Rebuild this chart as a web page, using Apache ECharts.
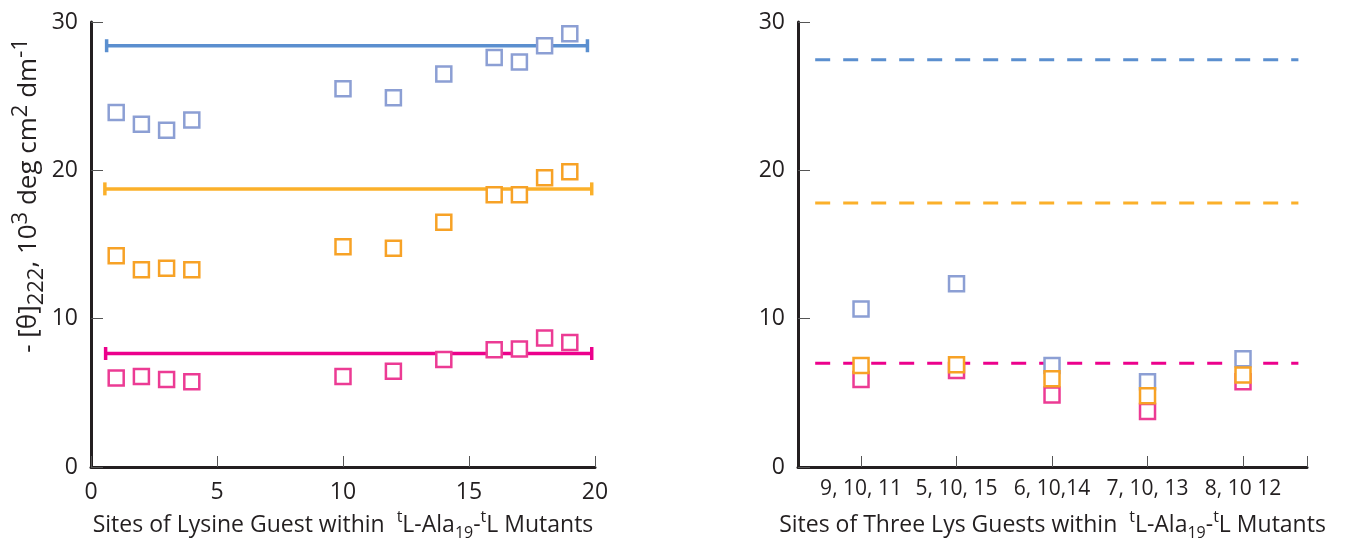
<!DOCTYPE html>
<html>
<head>
    <meta charset="utf-8">
    <title>Lysine guest sites</title>
    <script src="https://cdn.jsdelivr.net/npm/echarts@6/dist/echarts.min.js"></script>
    <style>
        html, body { margin: 0; padding: 0; background: #fff; }
        #main { width: 1348px; height: 546px; }
    </style>
</head>
<body>
<div id="main"></div>
<script type="text/javascript">
    // left panel: single Lys guest sites
    var sites = [1, 2, 3, 4, 10, 12, 14, 16, 17, 18, 19];
    var blueVals = [23.9, 23.1, 22.7, 23.4, 25.5, 24.9, 26.5, 27.6, 27.3, 28.4, 29.2];
    var orangeVals = [14.25, 13.3, 13.4, 13.3, 14.85, 14.75, 16.5, 18.35, 18.35, 19.5, 19.9];
    var pinkVals = [6.0, 6.1, 5.9, 5.75, 6.1, 6.45, 7.25, 7.9, 7.95, 8.7, 8.4];

    // reference levels (bars with end caps) in the left panel
    var blueRef = {from: 0.62, to: 19.7, y: 28.4};
    var orangeRef = {from: 0.55, to: 19.87, y: 18.75};
    var pinkRef = {from: 0.58, to: 19.87, y: 7.65};

    // right panel: three Lys guests
    var tripleSites = ['9, 10, 11', '5, 10, 15', '6, 10,14', '7, 10, 13', '8, 10 12'];
    var tripleBlue = [10.65, 12.35, 6.85, 5.75, 7.3];
    var tripleOrange = [6.85, 6.9, 5.95, 4.8, 6.2];
    var triplePink = [5.9, 6.5, 4.85, 3.75, 5.75];

    // dashed reference levels in the right panel
    var dashFrom = 0.52, dashTo = 5.58;
    var dashBlue = 27.45, dashOrange = 17.8, dashPink = 7.0;

    var xTicks = [0, 5, 10, 15, 20];

    var FONT = 'Open Sans';
    var INK = '#231f20';

    // x-axis names: small raised / lowered pieces
    var richX = {
        b: {fontFamily: FONT, fontSize: 23, color: INK, lineHeight: 32, verticalAlign: 'middle'},
        sup: {fontFamily: FONT, fontSize: 16, color: INK, lineHeight: 20, verticalAlign: 'top'},
        sub: {fontFamily: FONT, fontSize: 16, color: INK, lineHeight: 20, verticalAlign: 'bottom'}
    };
    // y-axis name: near full-size pieces, shifted up / down
    var richY = {
        b: {fontFamily: FONT, fontSize: 26, color: INK, lineHeight: 38, verticalAlign: 'middle'},
        sup: {fontFamily: FONT, fontSize: 22, color: INK, lineHeight: 26, verticalAlign: 'top'},
        sub: {fontFamily: FONT, fontSize: 22, color: INK, lineHeight: 26, verticalAlign: 'bottom'}
    };

    var myChart = echarts.init(document.getElementById('main'), null, {renderer: 'canvas'});

    function squares(name, xi, data, color) {
        return {
            name: name, type: 'scatter', xAxisIndex: xi, yAxisIndex: xi,
            symbol: 'rect', symbolSize: 15, data: data, z: 5,
            itemStyle: {color: '#fff', borderColor: color, borderWidth: 2.5, opacity: 1}
        };
    }

    function refBar(ref, color) {
        return {
            type: 'line', xAxisIndex: 0, yAxisIndex: 0,
            data: [[ref.from, ref.y], [ref.to, ref.y]],
            symbol: 'rect', symbolSize: [3.5, 13], showAllSymbol: true,
            itemStyle: {color: color}, lineStyle: {color: color, width: 3.5}, z: 3
        };
    }

    function dashLine(y, color) {
        return {
            type: 'line', xAxisIndex: 1, yAxisIndex: 1,
            data: [[dashFrom, y], [dashTo, y]], symbol: 'none',
            lineStyle: {color: color, width: 3, type: [15, 13]}, z: 3
        };
    }

    function yAxisCfg(gi, withName) {
        var a = {
            type: 'value', gridIndex: gi, min: 0, max: 30, interval: 10,
            axisLine: {show: true, lineStyle: {color: INK, width: 3}},
            axisTick: {show: true, inside: true, length: 12, lineStyle: {color: '#555', width: 1}},
            axisLabel: {fontFamily: FONT, fontSize: 23, color: INK, margin: 13},
            splitLine: {show: false}
        };
        if (withName) {
            a.name = '{b|- [θ]}{sub|222}{b|, 10}{sup|3}{b| deg cm}{sup|2}{b| dm}{sup|-1}';
            a.nameLocation = 'middle';
            a.nameGap = 38;
            // push the label up the axis, as in the original figure
            a.nameTextStyle = {rich: richY, padding: [0, 0, 0, 98]};
        }
        return a;
    }

    var option = {
        backgroundColor: '#fff',
        animation: false,
        grid: [
            {left: 91, top: 22, width: 504, height: 450},
            {left: 798, top: 22, width: 509, height: 450}
        ],
        xAxis: [
            {
                type: 'value', gridIndex: 0, min: 0, max: 20, interval: 5,
                axisLine: {show: true, lineStyle: {color: INK, width: 3}},
                axisTick: {show: true, inside: true, length: 11, lineStyle: {color: '#555', width: 1}},
                axisLabel: {fontFamily: FONT, fontSize: 23, color: INK, margin: 14,
                    formatter: function (v) { return xTicks.indexOf(v) >= 0 ? String(v) : ''; }},
                splitLine: {show: false},
                name: '{b|Sites of Lysine Guest within  }{sup|t}{b|L-Ala}{sub|19}{b|-}{sup|t}{b|L Mutants}',
                nameLocation: 'middle', nameGap: 42,
                nameTextStyle: {rich: richX}
            },
            {
                type: 'value', gridIndex: 1, min: 0.34, max: 5.67,
                axisLine: {show: true, lineStyle: {color: INK, width: 3}},
                axisTick: {show: true, inside: true, length: 11, customValues: [1, 2, 3, 4, 5, 5.67],
                    lineStyle: {color: '#555', width: 1}},
                axisLabel: {fontFamily: FONT, fontSize: 21, color: INK, margin: 12,
                    customValues: [1, 2, 3, 4, 5],
                    formatter: function (v) { return tripleSites[Math.round(v) - 1] || ''; }},
                splitLine: {show: false},
                name: '{b|Sites of Three Lys Guests within  }{sup|t}{b|L-Ala}{sub|19}{b|-}{sup|t}{b|L Mutants}',
                nameLocation: 'middle', nameGap: 42,
                nameTextStyle: {rich: richX}
            }
        ],
        yAxis: [yAxisCfg(0, true), yAxisCfg(1, false)],
        series: [
            refBar(blueRef, '#5b8fcf'),
            refBar(orangeRef, '#fbb02a'),
            refBar(pinkRef, '#ec008c'),
            squares('blue', 0, sites.map(function (s, i) { return [s, blueVals[i]]; }), '#8c9fd4'),
            squares('pink', 0, sites.map(function (s, i) { return [s, pinkVals[i]]; }), '#ec3b94'),
            squares('orange', 0, sites.map(function (s, i) { return [s, orangeVals[i]]; }), '#f7a226'),

            dashLine(dashBlue, '#5b8fcf'),
            dashLine(dashOrange, '#fbb02a'),
            dashLine(dashPink, '#ec008c'),
            squares('blue3', 1, tripleBlue.map(function (v, i) { return [i + 1, v]; }), '#8c9fd4'),
            squares('pink3', 1, triplePink.map(function (v, i) { return [i + 1, v]; }), '#ec3b94'),
            squares('orange3', 1, tripleOrange.map(function (v, i) { return [i + 1, v]; }), '#f7a226')
        ]
    };
    myChart.setOption(option);
</script>
</body>
</html>
